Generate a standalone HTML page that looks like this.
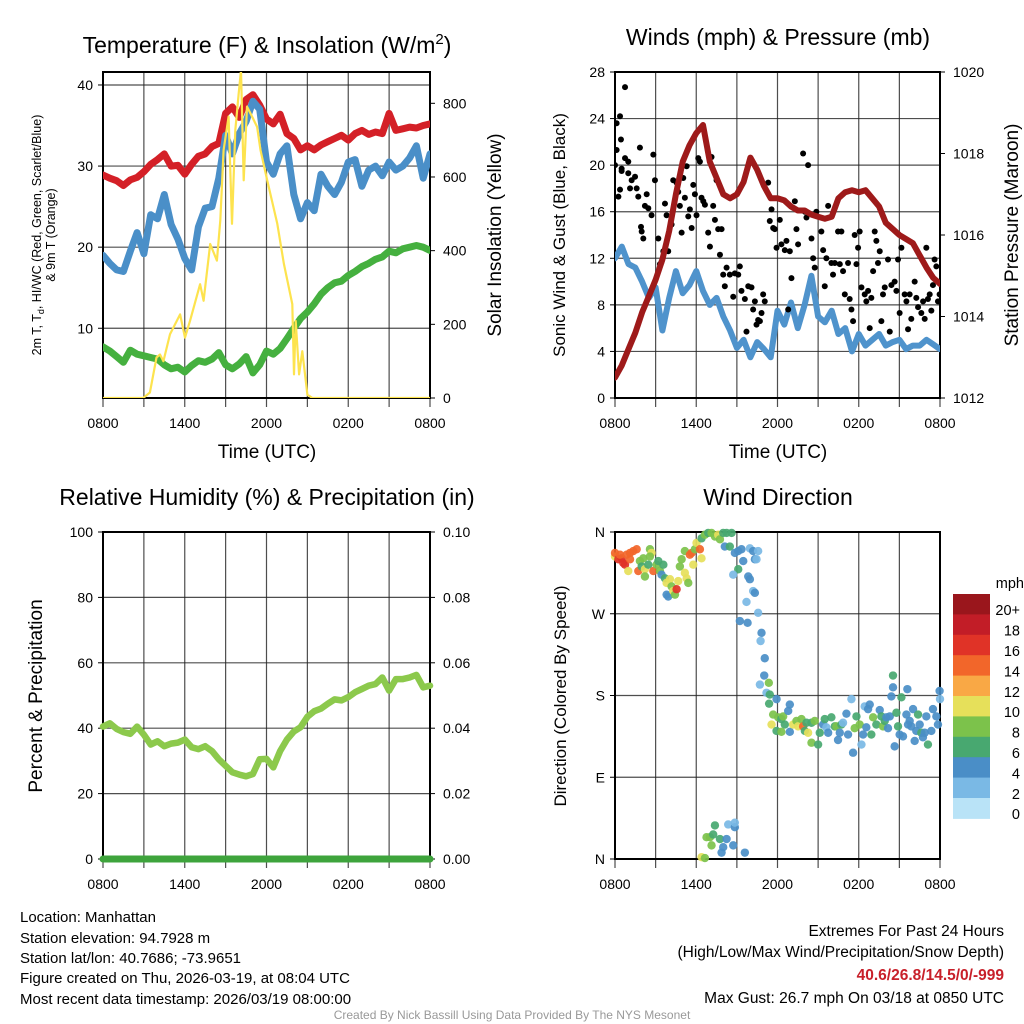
<!DOCTYPE html>
<html><head><meta charset="utf-8"><style>
html,body{margin:0;padding:0;background:#fff;}
svg{display:block;font-family:"Liberation Sans",Arial,sans-serif;}
</style></head><body>
<svg id="fig" width="1024" height="1024" viewBox="0 0 1024 1024" xmlns="http://www.w3.org/2000/svg">
<rect width="1024" height="1024" fill="#fff"/>
<g id="layer"></g>
<text x="267" y="53" font-size="23" text-anchor="middle">Temperature (F) &amp; Insolation (W/m<tspan font-size="15" dy="-9">2</tspan><tspan dy="9">)</tspan></text>
<text x="778" y="45" font-size="23" text-anchor="middle">Winds (mph) &amp; Pressure (mb)</text>
<text x="267" y="505" font-size="23" text-anchor="middle">Relative Humidity (%) &amp; Precipitation (in)</text>
<text x="778" y="505" font-size="23" text-anchor="middle">Wind Direction</text>
<text x="267" y="458" font-size="19" text-anchor="middle">Time (UTC)</text>
<text x="778" y="458" font-size="19" text-anchor="middle">Time (UTC)</text>
<g transform="translate(41,235) rotate(-90)">
<text x="0" y="0" font-size="12.5" text-anchor="middle">2m T, T<tspan font-size="9" dy="3">d</tspan><tspan dy="-3">, HI/WC (Red, Green, Scarlet/Blue)</tspan></text>
<text x="0" y="14" font-size="12.5" text-anchor="middle">&amp; 9m T (Orange)</text></g>
<text transform="translate(501,235) rotate(-90)" font-size="19" text-anchor="middle">Solar Insolation (Yellow)</text>
<text transform="translate(565,235) rotate(-90)" font-size="17" text-anchor="middle">Sonic Wind &amp; Gust (Blue, Black)</text>
<text transform="translate(1018,235) rotate(-90)" font-size="19" text-anchor="middle">Station Pressure (Maroon)</text>
<text transform="translate(42,696) rotate(-90)" font-size="19" text-anchor="middle">Percent &amp; Precipitation</text>
<text transform="translate(566,696) rotate(-90)" font-size="17" text-anchor="middle">Direction (Colored By Speed)</text>
<g font-size="15">
<text x="20" y="922">Location: Manhattan</text>
<text x="20" y="943">Station elevation: 94.7928 m</text>
<text x="20" y="963">Station lat/lon: 40.7686; -73.9651</text>
<text x="20" y="983">Figure created on Thu, 2026-03-19, at 08:04 UTC</text>
<text x="20" y="1004">Most recent data timestamp: 2026/03/19 08:00:00</text>
</g>
<g font-size="15.5" text-anchor="end">
<text x="1004" y="936">Extremes For Past 24 Hours</text>
<text x="1004" y="957">(High/Low/Max Wind/Precipitation/Snow Depth)</text>
<text x="1004" y="980" fill="#c8202a" font-weight="bold">40.6/26.8/14.5/0/-999</text>
<text x="1004" y="1003">Max Gust: 26.7 mph On 03/18 at 0850 UTC</text>
</g>
<text x="512" y="1019" font-size="12" fill="#999" text-anchor="middle">Created By Nick Bassill Using Data Provided By The NYS Mesonet</text>
</svg>
<script>
const hh = [0,0.5,1,1.5,2,2.5,3,3.5,4,4.5,5,5.5,6,6.5,7,7.5,8,8.5,9,9.5,10,10.5,11,11.5,12,12.5,13,13.5,14,14.5,15,15.5,16,16.5,17,17.5,18,18.5,19,19.5,20,20.5,21,21.5,22,22.5,23,23.5,24];
const tempRed = [28.9,28.5,28.2,27.6,28.3,28.6,29.3,30.2,30.8,31.5,30.0,30.1,29.0,30.2,31.2,31.5,32.4,32.8,36.5,37.3,36.0,38.2,38.8,37.5,35.8,35.2,36.4,34.0,33.4,32.0,32.5,32.0,32.6,33.0,33.4,33.8,33.2,34.0,34.4,33.9,34.2,34.0,36.5,34.4,34.6,34.8,34.7,35.0,35.2];
const tempBlue = [19.0,18.0,17.2,17.0,19.5,21.8,19.2,24.0,23.5,26.5,22.8,21.0,18.6,17.2,22.5,24.8,25.0,28.5,33.8,31.5,34.0,35.5,38.0,37.0,30.5,29.0,31.5,32.5,26.5,23.5,25.5,24.5,29.0,27.5,26.5,28.0,30.5,30.8,27.5,29.5,30.0,28.8,30.5,29.5,30.0,31.0,32.5,28.5,31.5];
const dewGreen = [7.7,7.2,6.5,5.8,7.3,6.8,6.6,6.4,6.2,5.5,5.0,5.2,4.6,5.4,6.0,5.8,6.2,7.0,5.5,5.0,5.6,6.5,4.5,5.5,7.2,6.8,7.5,8.7,10.0,11.2,12.0,13.0,14.2,15.0,15.6,15.8,16.5,17.0,17.6,18.0,18.5,18.8,19.5,19.3,19.8,20.0,20.2,20.0,19.6];
const solarHours = [0,2.95,3.44,3.93,4.18,4.43,4.92,5.66,6.02,6.39,7.13,7.38,7.87,8.36,8.61,8.85,9.22,9.47,9.71,9.96,10.13,10.33,10.57,10.94,11.31,11.56,12.05,12.79,13.28,13.89,14.02,14.14,14.39,14.63,15.0,15.37,24];
const solarVals = [0,0,15,110,118,100,173,227,164,210,309,264,418,373,482,673,764,473,727,827,890,591,791,764,736,673,591,473,364,255,64,209,64,127,9,0,0];
const pressure = [1012.5,1012.8,1013.2,1013.6,1014.1,1014.5,1014.9,1015.4,1016.1,1017.0,1017.8,1018.2,1018.5,1018.7,1017.8,1017.4,1017.0,1016.9,1017.0,1017.3,1017.9,1017.6,1017.2,1016.9,1016.9,1016.85,1016.7,1016.6,1016.6,1016.5,1016.45,1016.4,1016.45,1016.9,1017.05,1017.1,1017.05,1017.1,1016.9,1016.7,1016.3,1016.15,1016.0,1015.9,1015.8,1015.5,1015.2,1014.95,1014.8];
const windSpeed = [12.0,13.0,11.5,11.2,10.0,8.6,9.5,5.8,8.6,10.9,9.0,9.7,10.9,9.2,8.0,8.6,7.0,5.8,4.3,5.0,3.5,4.8,4.2,3.5,7.5,6.3,8.2,6.0,8.0,10.5,7.0,6.5,7.5,5.5,6.0,4.0,5.5,4.5,5.0,5.5,4.5,4.8,5.0,4.2,4.5,4.5,5.0,4.6,4.2];
const gustHours = [0,0.12,0.12,0.37,0.44,0.74,0.25,0.37,0.49,0.74,0.98,0.49,0.98,1.11,1.23,1.48,1.6,1.72,1.84,1.92,1.97,2.09,2.21,2.34,2.46,2.7,2.83,2.95,3.2,3.32,3.44,3.57,3.69,3.81,3.93,4.18,4.3,4.55,4.67,4.79,4.92,5.04,5.16,5.29,5.41,5.53,5.66,5.78,5.9,6.02,6.15,6.27,6.39,6.52,6.64,6.88,7.01,7.13,7.25,7.38,7.5,7.62,7.75,7.87,7.99,8.11,8.24,8.48,8.73,8.85,9.1,9.22,9.34,9.59,9.71,9.84,10.08,10.2,10.33,10.45,10.57,10.7,10.82,10.94,11.06,11.31,11.43,11.56,11.68,11.8,11.93,12.17,12.29,12.54,12.66,12.79,12.91,13.03,13.28,13.4,13.52,13.89,14.02,14.14,14.26,14.51,14.63,14.75,14.87,15.24,15.37,15.49,15.61,15.74,15.98,16.1,16.23,16.47,16.6,16.72,16.84,16.97,17.21,17.33,17.46,17.58,17.7,17.83,17.95,18.07,18.2,18.44,18.56,18.69,18.81,18.93,19.06,19.18,19.3,19.42,19.55,19.67,19.79,19.92,20.16,20.29,20.41,20.65,20.78,20.9,21.02,21.15,21.39,21.52,21.64,21.76,21.88,22.13,22.25,22.38,22.62,22.75,22.87,22.99,23.11,23.24,23.36,23.48,23.6,23.73,23.85,23.97];
const gustVals = [20.0,21.3,23.6,24.2,22.2,26.7,17.3,17.9,19.5,20.6,20.3,19.7,19.3,18.0,18.7,19.0,18.0,17.3,21.5,14.7,14.3,13.7,16.5,17.5,16.3,15.7,20.9,18.7,13.7,11.5,11.7,12.6,16.7,15.7,12.6,14.9,18.7,18.5,17.7,16.5,14.2,18.9,17.2,19.9,15.6,16.2,14.6,18.3,17.5,15.7,20.6,20.3,17.2,16.9,16.6,14.2,13.0,20.7,16.5,15.3,18.7,14.5,12.3,14.5,10.6,9.6,11.2,10.6,8.7,10.7,10.6,11.3,9.2,8.5,5.7,9.6,9.5,7.6,8.3,6.3,6.7,6.6,7.3,8.9,8.3,18.5,15.2,16.2,14.6,14.5,12.9,15.3,13.2,12.7,13.5,7.6,12.6,10.3,16.9,14.5,13.2,21.0,16.0,15.5,20.0,13.7,12.0,11.2,16.0,14.3,12.7,9.6,12.0,16.5,11.6,10.6,11.6,14.3,11.5,14.3,10.9,8.9,11.6,8.5,7.6,6.6,14.0,11.5,12.9,14.3,9.5,8.9,8.3,9.2,6.0,8.6,10.9,14.3,13.5,11.6,12.6,6.6,8.9,9.5,11.9,5.7,9.7,10.0,9.2,11.9,7.3,12.9,8.9,8.3,5.9,8.9,6.8,10.0,8.6,7.8,7.3,8.3,6.8,12.9,8.5,8.9,7.5,9.7,11.9,11.3,8.3,8.9,7.5];
const rhVals = [40.5,41.5,39.8,38.8,38.3,40.5,38.0,35.0,36.0,34.5,35.3,35.6,36.5,34.2,33.6,34.5,33.0,30.5,28.5,26.5,25.8,25.3,26.0,30.5,30.6,28.0,33.0,36.5,39.0,40.3,43.5,45.2,46.0,47.5,48.8,48.5,49.5,51.0,52.0,53.0,53.5,55.5,51.5,55.0,55.0,55.5,56.3,52.5,53.0];
const precipVals = [0,0,0,0,0,0,0,0,0,0,0,0,0,0,0,0,0,0,0,0,0,0,0,0,0,0,0,0,0,0,0,0,0,0,0,0,0,0,0,0,0,0,0,0,0,0,0,0,0];
const dirHours = [0,0,0.25,0.49,0.61,0.74,0.37,0.86,1.11,1.35,1.6,1.11,0.98,1.72,1.84,2.09,1.97,2.21,2.21,2.46,2.58,2.7,2.58,2.83,3.07,3.2,3.32,3.44,3.57,3.69,3.81,4.06,3.93,3.81,4.18,4.3,4.43,4.55,4.67,4.79,4.92,5.16,5.16,5.29,5.41,5.53,5.66,5.78,5.9,6.02,6.27,6.39,6.39,6.64,6.88,7.13,7.38,7.62,7.75,7.99,8.24,8.61,8.11,8.48,8.85,9.1,9.34,9.47,9.96,10.2,10.57,10.33,10.45,9.1,8.73,9.84,9.96,10.2,10.33,9.71,10.57,9.22,9.79,10.82,10.75,11.06,11.02,10.7,11.36,11.19,11.43,11.38,11.93,11.68,12.05,12.29,12.42,11.56,11.93,12.54,12.29,12.91,12.79,12.91,13.15,13.4,13.52,13.77,13.89,14.02,14.14,14.26,14.51,14.75,14.51,15.0,15.12,15.37,15.49,15.61,15.74,15.98,16.23,16.35,16.47,16.6,16.72,16.84,17.09,17.21,17.46,17.58,17.7,17.83,18.07,18.2,18.32,18.44,18.56,18.69,18.81,18.93,19.06,19.3,19.55,19.67,19.79,19.92,20.04,20.16,20.29,20.41,20.53,20.65,20.78,20.9,21.02,21.15,21.27,21.52,21.59,21.64,21.76,21.88,22.01,22.13,22.25,22.38,22.5,22.62,22.74,22.87,22.99,23.11,23.36,23.48,23.73,23.85,23.97,24.0,20.53,6.39,6.64,6.76,7.01,7.25,7.38,7.13,7.75,7.99,7.87,8.24,8.36,8.73,8.85,8.85,9.59];
const dirDeg = [333,337,330,331,326,324,335,335,337,339,341,330,317,317,328,331,322,319,311,324,341,337,333,317,324,328,317,313,324,309,304,308,289,291,300,295,291,297,306,322,330,339,315,309,304,335,337,324,341,348,341,331,353,357,359,359,355,357,352,359,359,359,344,344,337,339,341,328,342,339,339,330,330,319,313,311,308,295,293,283,271,262,260,249,240,221,202,192,194,183,181,171,176,159,156,154,157,148,141,148,140,170,163,140,148,152,146,154,146,141,150,139,150,152,128,126,139,148,154,145,139,156,146,146,131,139,148,150,160,137,176,117,144,157,148,126,137,168,145,165,170,137,156,148,164,157,146,152,156,144,157,179,189,124,161,146,137,178,135,159,187,148,152,146,165,130,141,159,148,139,134,139,157,126,141,165,157,148,185,176,202,2,1,24,24,27,37,15,22,13,7,22,38,15,35,40,7];
const dirSpeed = [10,13,15,15,15,15,13,13,13,13,13,13,10,13,8,8,6,10,8,6,8,10,8,13,8,6,8,4,6,6,10,10,4,4,8,10,8,15,10,8,8,8,10,10,8,13,13,10,8,10,13,10,6,8,6,8,8,10,8,6,6,6,4,6,4,4,4,4,2,4,2,4,2,6,2,4,4,2,4,2,2,4,4,4,2,4,4,2,8,2,6,6,4,8,8,6,8,10,6,6,8,4,4,4,10,8,10,8,13,6,6,10,6,8,8,6,6,4,6,2,4,6,6,8,4,4,6,2,4,4,2,4,8,6,8,2,4,2,4,4,4,6,8,6,4,6,8,6,4,4,4,4,4,4,6,6,4,6,4,4,4,4,4,4,4,4,4,6,4,6,4,4,4,6,4,4,4,4,4,2,6,10,8,8,8,6,6,8,6,4,4,4,2,4,4,2];
const xTickHours = [0,6,12,18,24];
const xTickLabels = ["0800","1400","2000","0200","0800"];
const tempTicks = [10,20,30,40];
const solarTicks = [0,200,400,600,800];
const windTicks = [0,4,8,12,16,20,24,28];
const pressTicks = [1012,1014,1016,1018,1020];
const rhTicks = [0,20,40,60,80,100];
const precipTicks = ["0.00","0.02","0.04","0.06","0.08","0.10"];
const dirTicks = [0,90,180,270,360];
const dirTickLabels = ["N","E","S","W","N"];
const cbarLabels = ["20+","18","16","14","12","10","8","6","4","2","0"];
const cbarColors = ["#9a161c","#c21d27","#e03327","#f2662a","#f9a845","#e6e05a","#7cc24b","#48a870","#4a8ec7","#7ab9e5","#b9e3f7"];

const NS = "http://www.w3.org/2000/svg";
const layer = document.getElementById("layer");
function mk(tag, attrs, parent){
  const e = document.createElementNS(NS, tag);
  for (const k in attrs) e.setAttribute(k, attrs[k]);
  (parent || layer).appendChild(e);
  return e;
}
function lin(d0,d1,r0,r1){ return v => r0 + (v-d0)/(d1-d0)*(r1-r0); }
function speedColor(s){ if (s === undefined || isNaN(s)) return "#4a8ec7"; let i = Math.round(s/2); if (i>10) i=10; if (i<0) i=0; return cbarColors[10-i]; }

const panels = [
  {name:"temperature", x0:103,x1:430,y0:72,y1:398},
  {name:"winds", x0:615,x1:940,y0:72,y1:398},
  {name:"humidity", x0:103,x1:430,y0:532,y1:859},
  {name:"direction", x0:615,x1:940,y0:532,y1:859}
];

function frame(p, leftTicks, leftScale, leftLabels, rightTicks, rightScale, rightLabels){
  const xs = lin(0,24,p.x0,p.x1);
  const g = mk("g", {});
  
  
  for (let h=0; h<=24; h+=3){
    const gl = mk("line", {x1:xs(h),x2:xs(h),y1:p.y0,y2:p.y1+9,stroke:"#222","stroke-width":1.2,"stroke-opacity":0.8}, g);
    
    
  }
  leftTicks.forEach((v,i)=>{
    const y = leftScale(v);
    const gl = mk("line", {x1:p.x0,x2:p.x1,y1:y,y2:y,stroke:"#222","stroke-width":1.2,"stroke-opacity":0.8}, g);
    
    
    const t = mk("text", {x:p.x0-10,y:y+5,"font-size":14,"text-anchor":"end"}, g);
    t.textContent = leftLabels[i];
    
    
    const tk = mk("line", {x1:p.x0-5,x2:p.x0,y1:y,y2:y,stroke:"#000","stroke-width":1}, g);
    
    
  });
  if (rightTicks) rightTicks.forEach((v,i)=>{
    const y = rightScale(v);
    const tk = mk("line", {x1:p.x1,x2:p.x1+5,y1:y,y2:y,stroke:"#000","stroke-width":1}, g);
    
    
    const t = mk("text", {x:p.x1+13,y:y+5,"font-size":14}, g);
    t.textContent = rightLabels[i];
    
    
  });
  xTickHours.forEach((h,i)=>{
    const t = mk("text", {x:xs(h),y:p.y1+30,"font-size":14,"text-anchor":"middle"}, g);
    t.textContent = xTickLabels[i];
    
    
  });
  const bx = mk("rect", {x:p.x0,y:p.y0,width:p.x1-p.x0,height:p.y1-p.y0,fill:"none",stroke:"#000","stroke-width":2}, g);
  
  
  return {xs, g};
}
function clip(p, id){
  const cp = mk("clipPath", {id:id});
  mk("rect", {x:p.x0,y:p.y0,width:p.x1-p.x0,height:p.y1-p.y0}, cp);
  return "url(#"+id+")";
}
function line(xsArr, ysArr, xs, ys, color, w, cl){
  const d = xsArr.map((h,i)=>(i?"L":"M")+xs(h).toFixed(1)+","+ys(ysArr[i]).toFixed(1)).join("");
  const a = {d:d,fill:"none",stroke:color,"stroke-width":w,"stroke-linejoin":"round","stroke-linecap":"round"};
  if (cl) a["clip-path"] = cl;
  return mk("path", a);
}

{
  const p = panels[0];
  const ys = lin(1.4,41.6,p.y1,p.y0);
  const ysR = lin(0,885,p.y1,p.y0);
  const f = frame(p, tempTicks, ys, tempTicks.map(String), solarTicks, ysR, solarTicks.map(String));
  const cl = clip(p, "c1");
  let e;
  e = line(hh, tempRed, f.xs, ys, "#d42027", 7, cl);
  
  
  e = line(hh, tempBlue, f.xs, ys, "#4a8fc8", 7, cl);
  
  
  e = line(hh, dewGreen, f.xs, ys, "#45b03f", 7, cl);
  
  
  e = line(solarHours, solarVals, f.xs, ysR, "#fde34e", 2.2, cl);
  
  
}
{
  const p = panels[1];
  const ys = lin(0,28,p.y1,p.y0);
  const ysR = lin(1012,1020,p.y1,p.y0);
  const f = frame(p, windTicks, ys, windTicks.map(String), pressTicks, ysR, pressTicks.map(String));
  const cl = clip(p, "c2");
  let e = line(hh, windSpeed, f.xs, ys, "#4f93cc", 6, cl);
  
  
  gustHours.forEach((h,i)=>{
    const c = mk("circle", {cx:f.xs(h),cy:ys(gustVals[i]),r:3,fill:"#000","clip-path":cl});
    
    
  });
  e = line(hh, pressure, f.xs, ysR, "#9e1a1a", 6, cl);
  
  
}
{
  const p = panels[2];
  const ys = lin(0,100,p.y1,p.y0);
  const ysR = lin(0,0.1,p.y1,p.y0);
  const f = frame(p, rhTicks, ys, rhTicks.map(String), precipTicks.map(Number), ysR, precipTicks);
  let e = line(hh, rhVals, f.xs, ys, "#8cc94c", 6.5, null);
  
  
  e = line(hh, precipVals, f.xs, ysR, "#3ea43c", 7, null);
  
  
}
{
  const p = panels[3];
  const ys = lin(0,360,p.y1,p.y0);
  const f = frame(p, dirTicks, ys, dirTickLabels, null, null, null);
  dirHours.forEach((h,i)=>{
    if (dirDeg[i] === undefined) return;
    const c = mk("circle", {cx:f.xs(h),cy:ys(dirDeg[i]),r:4.2,fill:speedColor(dirSpeed[i]),"fill-opacity":0.92});
    
    
  });
  const cb = mk("g", {});
  
  
  const top = 594, segH = 20.4;
  cbarColors.forEach((col,i)=>{
    const r = mk("rect", {x:953,y:top+i*segH,width:37,height:segH+0.5,fill:col}, cb);
    
    
    const t = mk("text", {x:1020,y:top+i*segH+segH/2+11,"font-size":14.5,"text-anchor":"end"}, cb);
    t.textContent = cbarLabels[i];
    
    
  });
  const u = mk("text", {x:1024,y:588,"font-size":14.5,"text-anchor":"end"}, cb);
  u.textContent = "mph";
  
  
}
</script>
</body></html>
